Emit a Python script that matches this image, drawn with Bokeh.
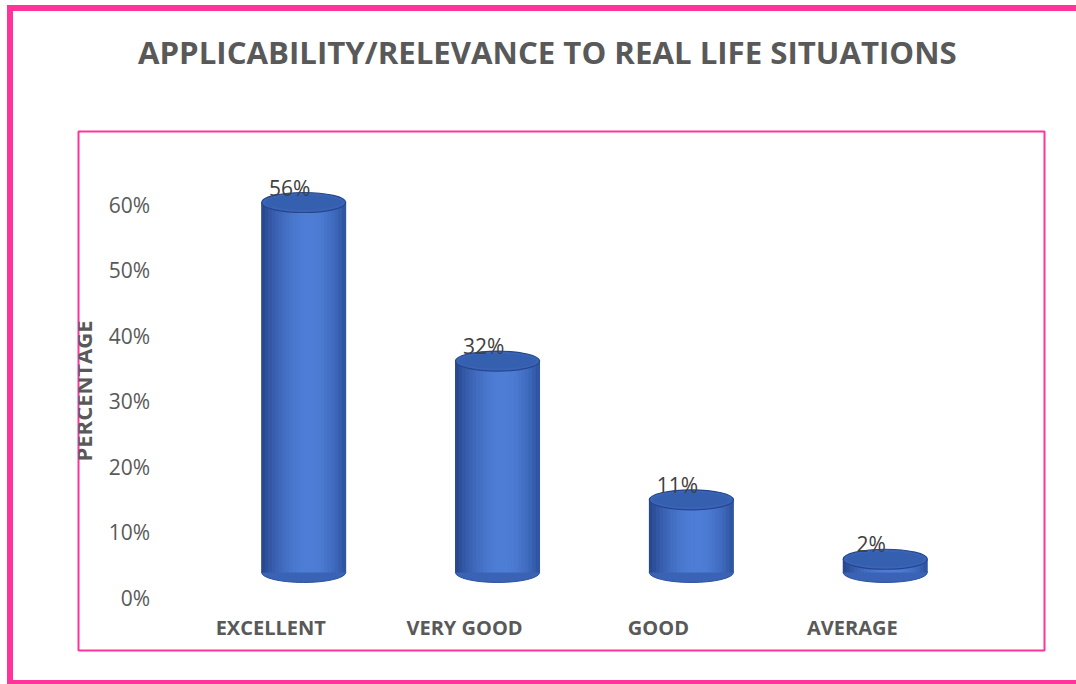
import math
from bokeh.plotting import figure
from bokeh.models import (ColumnDataSource, FactorRange, Range1d, FixedTicker,
                          PrintfTickFormatter, Title)
from bokeh.transform import dodge
from bokeh.core.properties import value
from bokeh.embed import file_html
from bokeh.resources import INLINE

# ---- data ----
categories = ["EXCELLENT", "VERY GOOD", "GOOD", "AVERAGE"]
percentages = [56, 32, 11, 2]
y_ticks = [0, 10, 20, 30, 40, 50, 60]
title_text = "APPLICABILITY/RELEVANCE TO REAL LIFE SITUATIONS"
y_title = "PERCENTAGE"

source = ColumnDataSource(dict(
    cat=categories,
    pct=percentages,
    zero=[0] * len(categories),
    lbl=[f"{v}%" for v in percentages],
))

PINK = "#FF3399"
GRAY = "#595959"

p = figure(width=1069, height=679, title=None,
           x_range=FactorRange(factors=categories, range_padding=0.4915,
                               range_padding_units="absolute"),
           y_range=Range1d(-8.02, 71.22),
           output_backend="svg", toolbar_location=None,
           min_border_left=65, min_border_right=38,
           min_border_top=120, min_border_bottom=40)
# outer pink border of the chart (its right edge lies outside the picture)
p.styles = {"margin-left": "7px", "margin-top": "5px",
            "border-left": f"6px solid {PINK}",
            "border-top": f"6px solid {PINK}",
            "border-bottom": f"4px solid {PINK}"}
# 3D depth offset of the bars relative to the axis
p.extra_y_ranges = {"bars": Range1d(-11.81, 66.75)}

p.background_fill_color = "white"
p.border_fill_color = "white"
p.outline_line_color = PINK
p.outline_line_width = 2
p.xgrid.visible = False
p.ygrid.visible = False

# spacer between title and chart area, then the title itself
p.add_layout(Title(text=" ", text_font_size="10px", standoff=39), "above")
p.add_layout(Title(text=title_text, align="left", vertical_align="top",
                   offset=59.5, standoff=10, text_font="Open Sans",
                   text_font_style="bold", text_font_size="31.2px",
                   text_color=GRAY), "above")

# axes (drawn inside the chart area)
for ax in (p.xaxis[0], p.yaxis[0]):
    ax.axis_line_color = None
    ax.major_tick_line_color = None
    ax.minor_tick_line_color = None
    ax.major_tick_out = 0
    ax.major_tick_in = 0
    ax.minor_tick_out = 0
    ax.minor_tick_in = 0
    ax.major_label_text_font = "Open Sans"
    ax.major_label_text_color = GRAY

p.xaxis.fixed_location = -1.76
p.xaxis.major_label_text_font_style = "bold"
p.xaxis.major_label_text_font_size = "20px"
p.xaxis.major_label_standoff = 5

p.yaxis.fixed_location = -0.0966
p.yaxis.ticker = FixedTicker(ticks=y_ticks)
p.yaxis.formatter = PrintfTickFormatter(format="%d%%")
p.yaxis.major_label_text_font_size = "21px"
p.yaxis.major_label_standoff = 5
p.yaxis.axis_label = y_title
p.yaxis.axis_label_text_font = "Open Sans"
p.yaxis.axis_label_text_font_style = "bold"
p.yaxis.axis_label_text_font_size = "22px"
p.yaxis.axis_label_text_color = GRAY
p.yaxis.axis_label_standoff = 8

# ---- cylinders ----
SHIFT = 0.170      # 3D horizontal offset (category units)
BAR_W = 0.434      # cylinder width (category units)
ELL_H = 20         # ellipse height (px)

# bottom cap
p.ellipse(x=dodge("cat", SHIFT, range=p.x_range), y="zero", width=BAR_W,
          height=ELL_H, height_units="screen", source=source,
          y_range_name="bars", fill_color="#3A63B6", line_color="#2B4F9C",
          line_width=1)

# body made of vertical shaded strips
N = 24
dark_l = (36, 66, 136)
dark_r = (44, 80, 156)
light = (78, 126, 214)
sw = BAR_W / N
for i in range(N):
    t = (i + 0.5) / N
    peak = 0.58
    if t < peak:
        s = math.sin(0.5 * math.pi * t / peak) ** 0.8
        base = dark_l
    else:
        s = math.sin(0.5 * math.pi * (1 - t) / (1 - peak)) ** 0.8
        base = dark_r
    c = tuple(int(base[k] + (light[k] - base[k]) * s) for k in range(3))
    col = "#%02x%02x%02x" % c
    off = SHIFT - BAR_W / 2 + (i + 0.5) * sw
    p.vbar(x=dodge("cat", off, range=p.x_range), top="pct", bottom="zero",
           width=sw * 1.25, source=source, y_range_name="bars",
           fill_color=col, line_color=None)

# top cap
p.ellipse(x=dodge("cat", SHIFT, range=p.x_range), y="pct", width=BAR_W,
          height=ELL_H, height_units="screen", source=source,
          y_range_name="bars", fill_color="#3B64B6", line_color="#24468E",
          line_width=1.2)
p.ellipse(x=dodge("cat", SHIFT, range=p.x_range), y="pct", width=BAR_W * 0.92,
          height=ELL_H * 0.75, height_units="screen", source=source,
          y_range_name="bars", fill_color="#3560B0", line_color=None)

# value labels
p.text(x=dodge("cat", 0.098, range=p.x_range), y="pct", text="lbl",
       source=source, y_range_name="bars", text_align="center",
       text_baseline="alphabetic", y_offset=-15,
       text_font=value("Open Sans"), text_font_size="21px",
       text_color="#404040")

open("out.html", "w").write(file_html(p, INLINE))
